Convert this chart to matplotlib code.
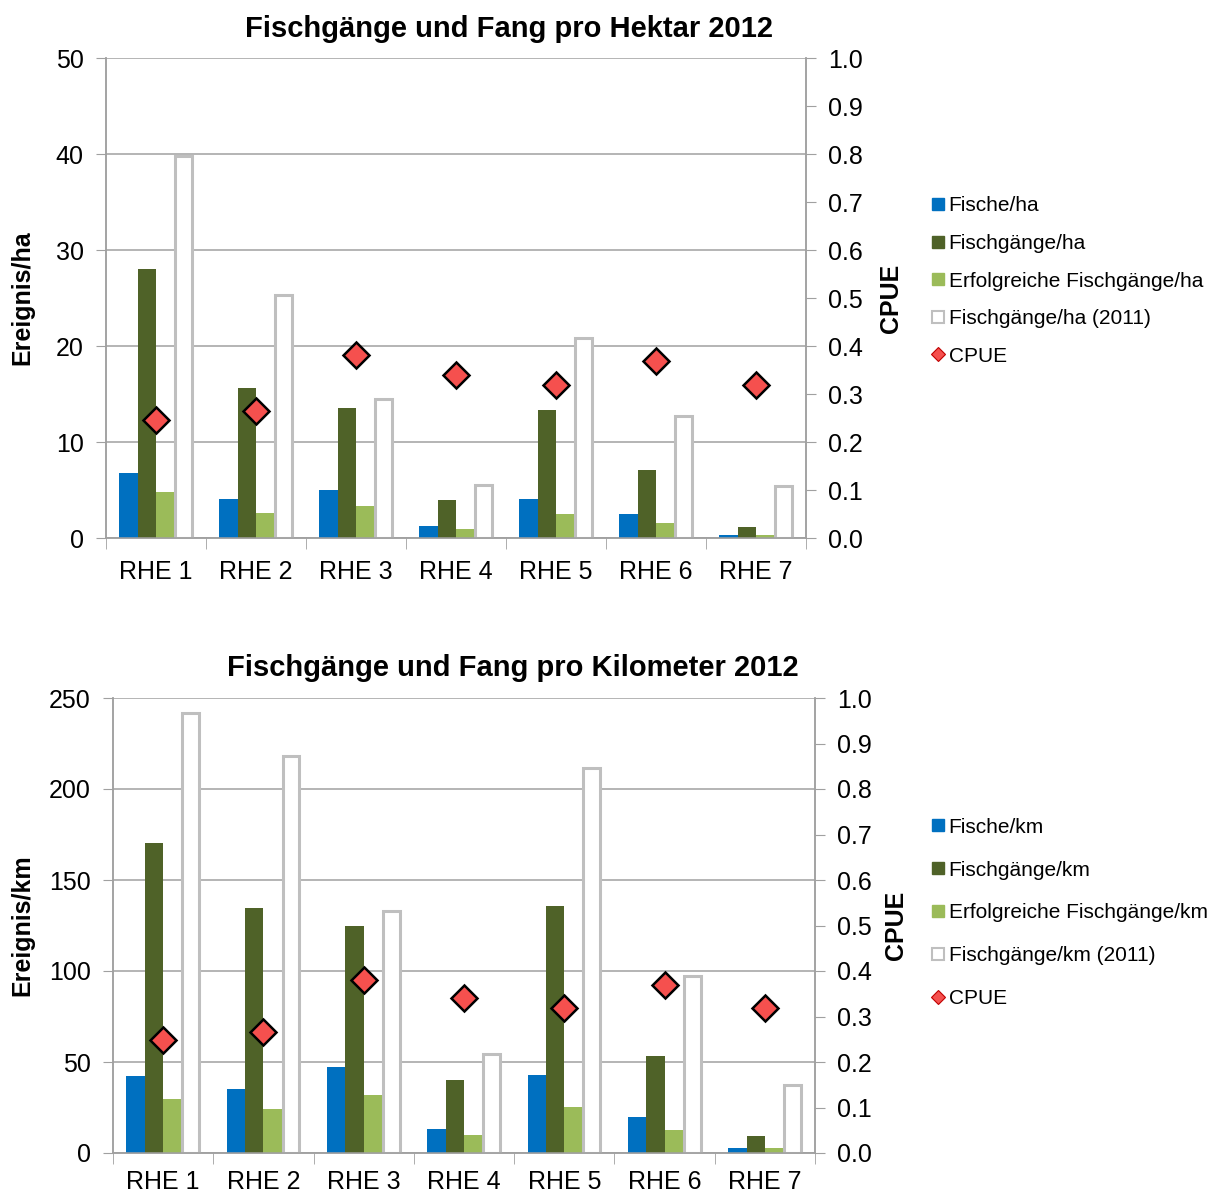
import matplotlib
matplotlib.use("Agg")
import matplotlib.pyplot as plt
import numpy as np
from matplotlib.lines import Line2D

plt.rcParams['font.family'] = ['Liberation Sans', 'DejaVu Sans']

categories = ["RHE 1", "RHE 2", "RHE 3", "RHE 4", "RHE 5", "RHE 6", "RHE 7"]

# Top chart (per hectare)
fische_ha = [6.8, 4.1, 5.05, 1.3, 4.1, 2.55, 0.35]
gaenge_ha = [28.0, 15.6, 13.5, 4.0, 13.35, 7.05, 1.15]
erfolg_ha = [4.8, 2.65, 3.3, 0.9, 2.55, 1.6, 0.35]
gaenge_ha_2011 = [39.8, 25.3, 14.5, 5.5, 20.8, 12.7, 5.4]
cpue_ha = [0.245, 0.264, 0.382, 0.339, 0.318, 0.368, 0.318]

# Bottom chart (per kilometre)
fische_km = [42.3, 35.3, 47.3, 13.4, 43.0, 19.8, 2.7]
gaenge_km = [170.5, 134.6, 124.7, 40.1, 135.9, 53.5, 9.1]
erfolg_km = [29.7, 24.0, 31.9, 9.9, 25.4, 12.6, 2.7]
gaenge_km_2011 = [241.8, 217.9, 133.0, 54.6, 211.5, 97.4, 37.5]
cpue_km = [0.249, 0.266, 0.381, 0.341, 0.319, 0.370, 0.319]

C_BLUE = "#0070C0"
C_DARK = "#4F6228"
C_LIGHT = "#9BBB59"
C_EDGE = "#BFBFBF"
C_RED = "#F5504E"
C_AX = "#A0A0A0"

W, H = 1216, 1196
fig = plt.figure(figsize=(W / 100, H / 100), dpi=100)


def px_axes(l, r, t, b):
    return fig.add_axes([l / W, 1 - b / H, (r - l) / W, (b - t) / H])


def draw(ax, box, vals, ymax, ystep, ylabel, title, title_xy, unit,
         legend_center_y, labelspacing, ylab_x, cpue_x, xpad):
    l, r, t, b = box
    fische, gaenge, erfolg, g2011, cpue = vals
    n = len(categories)
    x = np.arange(n)
    bw = 0.183
    offs = np.array([-1.5, -0.5, 0.5, 1.5]) * bw
    ax.bar(x + offs[0], fische, bw, color=C_BLUE, zorder=3)
    ax.bar(x + offs[1], gaenge, bw, color=C_DARK, zorder=3)
    ax.bar(x + offs[2], erfolg, bw, color=C_LIGHT, zorder=3)
    ax.bar(x + offs[3], g2011, bw * 0.92, color="white", edgecolor=C_EDGE,
           linewidth=2.2, zorder=3)
    ax.set_xlim(-0.5, n - 0.5)
    ax.set_ylim(0, ymax)
    ax.set_yticks(np.arange(0, ymax + 0.01, ystep))
    ax.yaxis.grid(True, color=C_AX, linewidth=1.1, zorder=0)
    ax.set_axisbelow(True)
    ax.set_xticks(x)
    ax.set_xticklabels(categories, fontsize=18)
    ax.set_xticks(np.arange(-0.5, n, 1.0), minor=True)
    ax.tick_params(axis='x', which='major', length=0, pad=xpad)
    ax.tick_params(axis='x', which='minor', length=8, color=C_AX, direction='out')
    ax.tick_params(axis='y', labelsize=18, length=7, color=C_AX, pad=9)
    for s in ax.spines.values():
        s.set_color(C_AX)
        s.set_linewidth(1.1)
    ax.spines['top'].set_visible(False)
    ax.set_ylabel(ylabel, fontsize=18, fontweight='bold')
    ax.yaxis.set_label_coords((ylab_x - l) / (r - l), 0.5)

    ax2 = ax.twinx()
    ax2.set_ylim(0, 1.0)
    ax2.set_yticks(np.arange(0, 1.001, 0.1))
    ax2.set_yticklabels([f"{v:.1f}" for v in np.arange(0, 1.001, 0.1)])
    ax2.tick_params(axis='y', labelsize=18, length=7, color=C_AX, pad=9)
    for s in ax2.spines.values():
        s.set_color(C_AX)
        s.set_linewidth(1.1)
    ax2.spines['top'].set_visible(False)
    ax2.plot(x, cpue, linestyle='none', marker='D', markersize=13,
             markerfacecolor=C_RED, markeredgecolor='black', markeredgewidth=1.8,
             zorder=5)
    ax2.set_ylabel("CPUE", fontsize=18, fontweight='bold')
    ax2.yaxis.set_label_coords((cpue_x - l) / (r - l), 0.5)
    ax.set_zorder(ax2.get_zorder() - 1)
    ax.patch.set_visible(True)
    ax2.patch.set_visible(False)
    fig.text(title_xy[0] / W, 1 - title_xy[1] / H, title, fontsize=21,
             fontweight='bold', ha='center', va='center')

    handles = [
        Line2D([], [], linestyle='none', marker='s', markersize=8, markerfacecolor=C_BLUE, markeredgecolor=C_BLUE),
        Line2D([], [], linestyle='none', marker='s', markersize=8, markerfacecolor=C_DARK, markeredgecolor=C_DARK),
        Line2D([], [], linestyle='none', marker='s', markersize=8, markerfacecolor=C_LIGHT, markeredgecolor=C_LIGHT),
        Line2D([], [], linestyle='none', marker='s', markersize=8, markerfacecolor='white', markeredgecolor=C_EDGE, markeredgewidth=1.5),
        Line2D([], [], linestyle='none', marker='D', markersize=7, markerfacecolor=C_RED, markeredgecolor='#C00000', markeredgewidth=0.8),
    ]
    labels = [f"Fische/{unit}", f"Fischgänge/{unit}", f"Erfolgreiche Fischgänge/{unit}",
              f"Fischgänge/{unit} (2011)", "CPUE"]
    fig.legend(handles, labels, loc='center left',
               bbox_to_anchor=(931 / W, 1 - legend_center_y / H),
               frameon=False, fontsize=15, handlelength=0.7, handletextpad=0.15,
               labelspacing=labelspacing, borderaxespad=0, borderpad=0)


box_top = (106, 806, 58, 538)
ax_top = px_axes(*box_top)
draw(ax_top, box_top, (fische_ha, gaenge_ha, erfolg_ha, gaenge_ha_2011, cpue_ha), 50, 10,
     "Ereignis/ha", "Fischgänge und Fang pro Hektar 2012", (509, 29), "ha",
     281, 0.89, 34, 879, 16)

box_bot = (113, 815, 698, 1153)
ax_bot = px_axes(*box_bot)
draw(ax_bot, box_bot, (fische_km, gaenge_km, erfolg_km, gaenge_km_2011, cpue_km), 250, 50,
     "Ereignis/km", "Fischgänge und Fang pro Kilometer 2012", (513, 668), "km",
     913, 1.15, 34, 884, 12)

fig.savefig("out.png", dpi=100)
